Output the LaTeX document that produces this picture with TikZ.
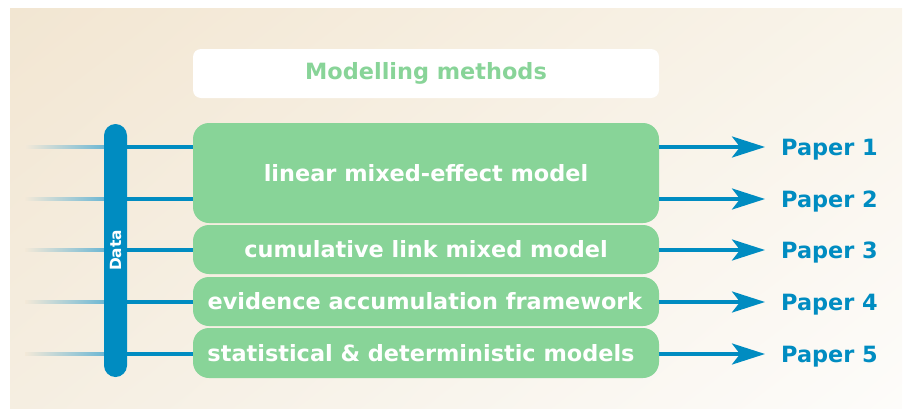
\documentclass[tikz,border=0pt]{standalone}
\usepackage{fontspec}
\setmainfont{DejaVu Sans}
\usetikzlibrary{arrows.meta, shadings, calc}
\definecolor{dblue}{HTML}{008CC1}
\definecolor{fadeblue}{HTML}{6FB8D4}
\definecolor{mgreen}{HTML}{88D498}
\definecolor{bgUL}{HTML}{F2E6D2}
\definecolor{bgUR}{HTML}{F9F4EA}
\definecolor{bgLL}{HTML}{F5EEE1}
\definecolor{bgLR}{HTML}{FDFCFA}
\definecolor{bgleft}{HTML}{F3E9D8}
\tikzset{
  txt/.style={font=\fontsize{22.4}{26}\selectfont\bfseries, text height=16.3pt, text depth=0pt},
  method/.style={txt, fill=mgreen, text=white, rounded corners=16pt, minimum width=466pt, inner sep=0pt},
  titlebox/.style={txt, fill=white, text=mgreen, rounded corners=8pt, minimum width=466pt, minimum height=49pt, inner sep=0pt, text depth=4pt},
  databar/.style={fill=dblue, text=white, rotate=90, rounded corners=11.5pt, minimum width=253pt, minimum height=23pt, inner sep=0pt,
    font=\fontsize{15.4}{18}\selectfont\bfseries, text height=11.2pt, text depth=0pt},
  paper/.style={txt, text=dblue, anchor=west, inner xsep=16pt, inner ysep=0pt},
  link/.style={draw=dblue, line width=3.5pt},
  outarrow/.style={link, -{Stealth[length=33pt, width=21pt, inset=8pt]}},
}
\begin{document}
\begin{tikzpicture}[x=1pt, y=-1pt]
\useasboundingbox (0,0) rectangle (904,410);
\shade[upper left=bgUL, upper right=bgUR, lower left=bgLL, lower right=bgLR] (10,8) rectangle (902,408);

\node[titlebox] (title) at (426,73.5) {Modelling methods};
\node[method, minimum height=100pt] (m1) at (426,173) {linear mixed-effect model};
\node[method, minimum height=49pt] (m2) at (426,249.5) {cumulative link mixed model};
\node[method, minimum height=49pt] (m3) at (426,301.5) {evidence accumulation framework\hspace*{2pt}};
\node[method, minimum height=50pt] (m4) at (426,353) {statistical \& deterministic models\hspace*{10pt}};

\foreach \i/\y in {1/147, 2/199, 3/250, 4/302, 5/354} {
  \coordinate (in\i) at (25,\y);
  \node[paper] (p\i) at (765,\y) {Paper \i};
}
\node[databar] (data) at (115.5,250.5) {Data};

% faded input lines
\foreach \i in {1,...,5} {
  \shade[left color=bgleft, right color=fadeblue] ($(in\i)+(0,-1.75)$) rectangle ($(in\i -| data.north)+(0,1.75)$);
}
\foreach \i/\m in {1/m1, 2/m1, 3/m2, 4/m3, 5/m4} {
  \draw[link] (in\i -| data.south) -- (in\i -| \m.west);
  \draw[outarrow] (in\i -| \m.east) -- (p\i.west);
}
\end{tikzpicture}
\end{document}
